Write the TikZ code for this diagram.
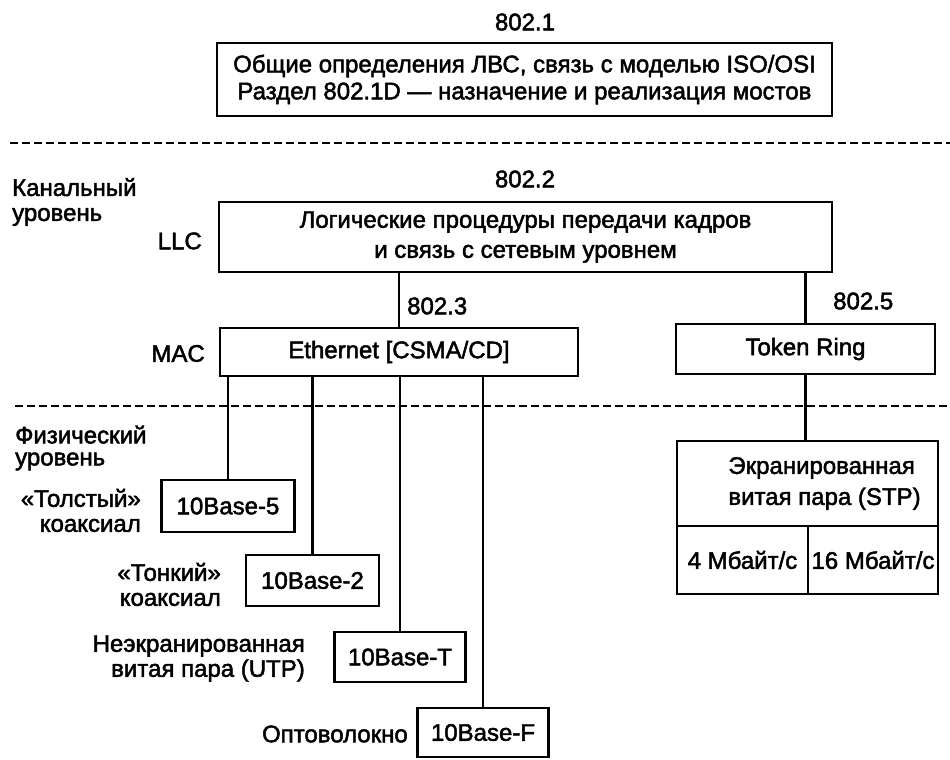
\documentclass[tikz,border=0pt]{standalone}
\usepackage{fontspec}
\setmainfont{Liberation Sans}[RawFeature={embolden=2}]
\newcommand\lblfont{\fontsize{24}{27}\selectfont}
\begin{document}
\begin{tikzpicture}[x=1pt,y=-1pt,
  box/.style={draw=black, line width=2.8pt, inner sep=0pt, align=center, font=\lblfont},
  lbl/.style={inner sep=0pt, font=\lblfont},
  link/.style={line width=2.2pt},
  layerline/.style={line width=2.4pt, dash pattern=on 8pt off 4pt}]
\useasboundingbox (0,0) rectangle (950,760);
\fill[white] (0,0) rectangle (950,760);

% layer boundaries
\coordinate (d1w) at (10,143);
\coordinate (d1e) at (950,143);
\coordinate (d2w) at (15,406);
\coordinate (d2e) at (950,406);
\draw[layerline] (d1w) -- (d1e);
\draw[layerline] (d2w) -- (d2e);

% 802.1
\node[lbl] (n8021) at (525,22) {802.1};
\node[box, minimum width=615pt, minimum height=73pt] (gen) at (524.5,79.5)
  {Общие определения ЛВС, связь с моделью ISO/OSI\\Раздел 802.1D — назначение и реализация мостов};

% data link layer
\node[lbl, align=left, anchor=west, font=\fontsize{24}{25}\selectfont] (chan) at (12,202) {Канальный\\уровень};
\node[lbl] (n8022) at (525,179) {802.2};
\node[lbl, anchor=east] (llcl) at (202,241) {LLC};
\node[box, minimum width=613pt, minimum height=70pt, font=\fontsize{24}{30}\selectfont] (llc) at (525.5,237)
  {Логические процедуры передачи кадров\\и связь с сетевым уровнем};

\node[lbl, anchor=west] (n8023) at (407,306) {802.3};
\node[lbl, anchor=east] (macl) at (205,353.5) {MAC};
\node[box, minimum width=358pt, minimum height=48pt] (eth) at (399,352) {Ethernet [CSMA/CD]};

\node[lbl, anchor=west] (n8025) at (833,301) {802.5};
\node[box, minimum width=259pt, minimum height=50pt] (tr) at (805.5,349) {\raisebox{-2pt}{Token Ring}};

% physical layer
\node[lbl, align=left, anchor=west, font=\fontsize{24}{22}\selectfont] (phys) at (15,448) {Физический\\уровень};

\node[box, minimum width=133pt, minimum height=52pt] (b5) at (228,506) {10Base-5};
\node[box, minimum width=133pt, minimum height=51pt] (b2) at (312.5,580.5) {10Base-2};
\node[box, minimum width=131pt, minimum height=50pt] (bT) at (400,657) {10Base-T};
\node[box, minimum width=131pt, minimum height=49pt] (bF) at (483,732.5) {10Base-F};

\node[lbl, align=right, anchor=east, font=\fontsize{24}{25}\selectfont] (thick) at (141,510.5) {«Толстый»\\коаксиал};
\node[lbl, align=right, anchor=east, font=\fontsize{24}{25}\selectfont] (thin) at (221,584.5) {«Тонкий»\\коаксиал};
\node[lbl, align=right, anchor=east, font=\fontsize{24}{25}\selectfont] (utp) at (305,658.5) {Неэкранированная\\витая пара (UTP)};
\node[lbl, anchor=east] (fib) at (408,734) {Оптоволокно};

\node[box, minimum width=261pt, minimum height=85pt] (stp) at (807.5,483.5) {};
\node[lbl, align=left, font=\fontsize{24}{31}\selectfont] (stpt) at ([xshift=17pt]stp.center) {Экранированная\\витая пара (STP)};
\node[box, minimum width=131pt, minimum height=68pt] (c4) at (742.5,560) {4 Мбайт/с};
\node[box, minimum width=130pt, minimum height=68pt] (c16) at (873,560) {16 Мбайт/с};

% connectors
\draw[link] (eth.north) -- (eth.north |- llc.south);
\draw[link] (tr.north) -- (tr.north |- llc.south);
\draw[link] (tr.south) -- (tr.south |- stp.north);
\foreach \b in {b5,b2,bT,bF}
  \draw[link] (\b.north) -- (\b.north |- eth.south);
\end{tikzpicture}
\end{document}
